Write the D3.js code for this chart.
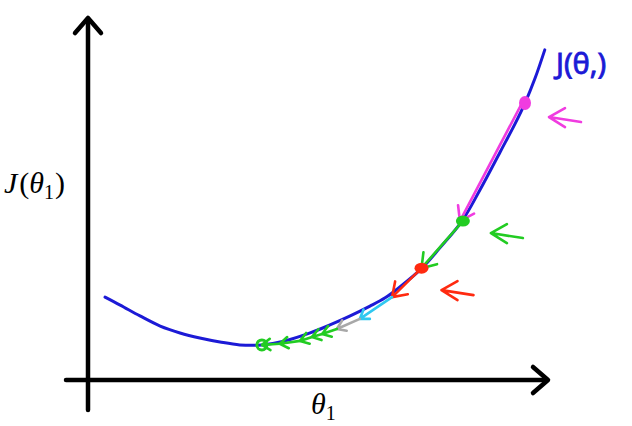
<!DOCTYPE html>
<html><head><meta charset="utf-8">
<script src="https://cdn.jsdelivr.net/npm/d3@7"></script>
<style>body{margin:0;background:#fff}svg{display:block}</style>
</head><body>
<svg id="c" width="632" height="426"></svg>
<script>
// cost curve J(theta1)
const curveTheta = [0.37,0.70,1.13,1.57,2.00,2.43,2.87,3.30,3.78,4.28,4.83,5.26,5.70,6.13,6.46,6.78,7.26,7.65,8.13,8.52,8.96,9.28,9.50,9.72,9.93];
const curveJ     = [2.29,2.07,1.77,1.49,1.30,1.16,1.05,0.97,0.97,1.08,1.30,1.52,1.77,2.04,2.27,2.57,3.09,3.65,4.39,5.25,6.30,7.07,7.65,8.34,9.12];
// gradient descent iterates
const stepTheta = [9.50,8.15,7.25,6.61,5.91,5.41,5.09,4.87,4.61,4.17,3.78];
const stepJ     = [7.65,4.39,3.09,2.29,1.69,1.41,1.27,1.19,1.08,1.00,0.97];
const stepColors = ["#f03ce0","#22cc22","#ff2a10","#30c8f0","#a8a8a8","#22cc22","#22cc22","#22cc22","#22cc22","#22cc22"];
const dotIdx = [0,1,2];
const dotColors = ["#f03ce0","#22cc22","#ff2a10"];
const curveLabel = "J(θ,)";

const svg = d3.select("#c");
const x = d3.scaleLinear().domain([0,10]).range([88,548]);
const y = d3.scaleLinear().domain([0,10]).range([380,18]);

// axes
const ax = svg.append("g").attr("stroke","#000").attr("stroke-width",4.5).attr("fill","none")
  .attr("stroke-linecap","round").attr("stroke-linejoin","round");
ax.append("line").attr("x1",x(0)).attr("x2",x(0)).attr("y1",y(0)+30).attr("y2",y(10)+2);
ax.append("path").attr("d",`M${x(0)-13},${y(10)+15}L${x(0)},${y(10)}L${x(0)+13},${y(10)+15}`);
ax.append("line").attr("x1",x(0)-22).attr("x2",x(10)-2).attr("y1",y(0)).attr("y2",y(0));
ax.append("path").attr("d",`M${x(10)-15},${y(0)-13}L${x(10)},${y(0)}L${x(10)-15},${y(0)+13}`);

// curve
const line = d3.line().x(d=>x(d[0])).y(d=>y(d[1])).curve(d3.curveCatmullRom);
svg.append("path").datum(d3.zip(curveTheta,curveJ)).attr("d",line)
  .attr("fill","none").attr("stroke","#1c1ad6").attr("stroke-width",3).attr("stroke-linecap","round");

// step arrows
const g = svg.append("g").attr("fill","none").attr("stroke-width",2.6).attr("stroke-linecap","round").attr("stroke-linejoin","round");
for (let i=0;i<stepTheta.length-1;i++){
  const x0=x(stepTheta[i]), y0=y(stepJ[i]), x1=x(stepTheta[i+1]), y1=y(stepJ[i+1]);
  const a=Math.atan2(y0-y1,x0-x1);
  const L = i<3?16:10, s=0.6;
  const p1=[x1+L*Math.cos(a+s), y1+L*Math.sin(a+s)];
  const p2=[x1+L*Math.cos(a-s), y1+L*Math.sin(a-s)];
  const off = i===0?-3:0;
  g.append("path").attr("stroke",stepColors[i])
   .attr("d",`M${x0+off},${y0}L${x1+off},${y1}M${p1[0]+off},${p1[1]}L${x1+off},${y1}L${p2[0]+off},${p2[1]}`);
}

// dots
dotIdx.forEach((k,j)=>{
  svg.append("ellipse").attr("cx",x(stepTheta[k])).attr("cy",y(stepJ[k]))
    .attr("rx",j===0?6:7).attr("ry",j===0?7:5.5).attr("fill",dotColors[j]);
});
const last = stepTheta.length-1;
svg.append("circle").attr("cx",x(stepTheta[last])).attr("cy",y(stepJ[last])).attr("r",5)
  .attr("fill","none").attr("stroke","#22cc22").attr("stroke-width",3);

// side pointer arrows
const sideOff = [[24,14],[28,12],[20,22]];
dotIdx.forEach((k,j)=>{
  const tx=x(stepTheta[k])+sideOff[j][0], ty=y(stepJ[k])+sideOff[j][1];
  svg.append("path").attr("fill","none").attr("stroke",dotColors[j]).attr("stroke-width",2.6)
    .attr("stroke-linecap","round").attr("stroke-linejoin","round")
    .attr("d",`M${tx+16},${ty-9}L${tx},${ty}L${tx+16},${ty+10}M${tx},${ty}L${tx+32},${ty+5}`);
});

// labels (LaTeX-like)
const serif = "Liberation Serif, DejaVu Serif, serif";
const yl = svg.append("text").attr("x",4).attr("y",193).attr("font-family",serif)
  .attr("font-size",30).attr("fill","#000");
yl.append("tspan").attr("font-style","italic").text("J");
yl.append("tspan").attr("dx",2).text("(");
yl.append("tspan").attr("font-style","italic").text("θ");
yl.append("tspan").attr("font-size",20).attr("dy",6).text("1");
yl.append("tspan").attr("dy",-6).attr("dx",1).text(")");
const xl = svg.append("text").attr("x",311).attr("y",414).attr("font-family",serif)
  .attr("font-size",30).attr("fill","#000");
xl.append("tspan").attr("font-style","italic").text("θ");
xl.append("tspan").attr("font-size",20).attr("dy",6).text("1");

svg.append("text").attr("x",556).attr("y",74).attr("font-family","Noto Sans, sans-serif")
  .attr("font-size",29).attr("fill","#1c1ad6").attr("stroke","#1c1ad6").attr("stroke-width",0.8)
  .text(curveLabel);
</script>
</body></html>
